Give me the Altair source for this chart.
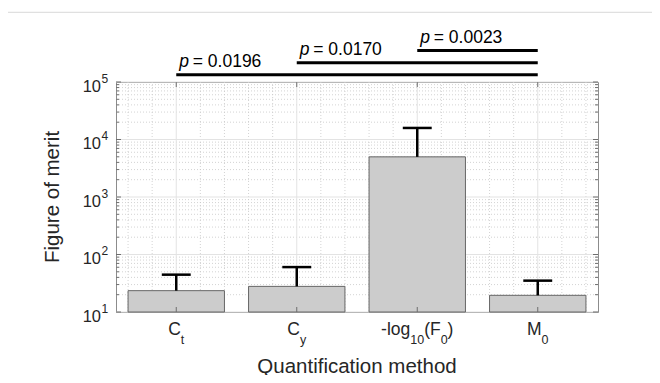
import altair as alt
import numpy as np
import pandas as pd

# ---------------- data ----------------
positions = [1, 2, 3, 4]
bar_means = [23.5, 27.9, 4990, 19.5]
bar_upper = [44.6, 60.4, 15880, 35.1]
label_parts = [
    [("C", False), ("t", True)],
    [("C", False), ("y", True)],
    [("-log", False), ("10", True), ("(F", False), ("0", True), (")", False)],
    [("M", False), ("0", True)],
]
decades = [10, 100, 1000, 10000, 100000]
decade_exps = ["1", "2", "3", "4", "5"]
sig_start = [1, 2, 3]
sig_end = [4, 4, 4]
sig_line_y = [1.34e5, 2.16e5, 3.54e5]
sig_p = ["0.0196", "0.0170", "0.0023"]
x_title = "Quantification method"
y_title = "Figure of merit"

# ---------------- layout / style ----------------
W, H = 482, 230
PAD = {"left": 108, "top": 74, "right": 54, "bottom": 63}
FONT = "Liberation Sans"
TXT = "#262626"
MAIN_FS, SUB_FS = 17.5, 12.5
ARIAL = {"C": 722, "t": 278, "y": 500, "-": 333, "l": 222, "o": 556, "g": 556,
         "1": 556, "0": 556, "(": 333, "F": 611, ")": 333, "M": 833}


def text_w(s, fs):
    return sum(ARIAL.get(c, 556) for c in s) * fs / 1000.0


xs = alt.Scale(domain=[0.5, 4.5], nice=False, zero=False)
ys = alt.Scale(type="log", domain=[10, 1e5], nice=False)


def X(f):
    return alt.X(f, type="quantitative", scale=xs, axis=None)


def Y(f):
    return alt.Y(f, type="quantitative", scale=ys, axis=None)


# grid values
minor_x = [round(v, 2) for v in np.arange(0.6, 4.41, 0.2) if abs(v - round(v)) > 1e-6]
minor_y = [m * 10 ** k for k in range(1, 5) for m in range(2, 10)]

gx_major = pd.DataFrame({"v": positions})
gx_minor = pd.DataFrame({"v": minor_x})
gy_major = pd.DataFrame({"v": decades})
gy_minor = pd.DataFrame({"v": minor_y})

layers = []
# grid
layers.append(alt.Chart(gx_minor).mark_rule(color="#c8c8c8", strokeWidth=0.8, strokeDash=[1, 2]).encode(
    x=X("v"), y=alt.value(0), y2=alt.value(H)))
layers.append(alt.Chart(gy_minor).mark_rule(color="#c8c8c8", strokeWidth=0.8, strokeDash=[1, 2]).encode(
    y=Y("v"), x=alt.value(0), x2=alt.value(W)))
layers.append(alt.Chart(gx_major).mark_rule(color="#e3e3e3", strokeWidth=1).encode(
    x=X("v"), y=alt.value(0), y2=alt.value(H)))
layers.append(alt.Chart(gy_major).mark_rule(color="#e3e3e3", strokeWidth=1).encode(
    y=Y("v"), x=alt.value(0), x2=alt.value(W)))

# bars
bars = pd.DataFrame({"pos": positions, "mean": bar_means, "upper": bar_upper})
bars["base"] = 10
bars["lo"] = bars["pos"] - 0.4
bars["hi"] = bars["pos"] + 0.4
bars["clo"] = bars["pos"] - 0.12
bars["chi"] = bars["pos"] + 0.12
layers.append(alt.Chart(bars).mark_bar(fill="#cccccc", stroke="#666666", strokeWidth=1).encode(
    x=X("lo"), x2="hi", y=Y("mean"), y2="base"))
layers.append(alt.Chart(bars).mark_rule(color="black", strokeWidth=2.5).encode(
    x=X("pos"), y=Y("mean"), y2="upper"))
layers.append(alt.Chart(bars).mark_rule(color="black", strokeWidth=2.5).encode(
    x=X("clo"), x2="chi", y=Y("upper")))

# inward ticks
TC = "#6e6e6e"
for xa, xb in [(0, 5), (W - 5, W)]:
    layers.append(alt.Chart(gy_major).mark_rule(color=TC, strokeWidth=1).encode(
        y=Y("v"), x=alt.value(xa), x2=alt.value(xb)))
for xa, xb in [(0, 3), (W - 3, W)]:
    layers.append(alt.Chart(gy_minor).mark_rule(color=TC, strokeWidth=1).encode(
        y=Y("v"), x=alt.value(xa), x2=alt.value(xb)))
for ya, yb in [(H - 5, H), (0, 5)]:
    layers.append(alt.Chart(gx_major).mark_rule(color=TC, strokeWidth=1).encode(
        x=X("v"), y=alt.value(ya), y2=alt.value(yb)))

# significance brackets
P_FS = 17.5
sig = pd.DataFrame({"s": sig_start, "e": sig_end, "y": sig_line_y, "p": sig_p})
layers.append(alt.Chart(sig).mark_rule(color="black", strokeWidth=3).encode(
    x=X("s"), x2="e", y=Y("y")))
layers.append(alt.Chart(sig).mark_text(align="left", baseline="alphabetic", dx=3, dy=-7.7,
                                       fontSize=P_FS, fontStyle="italic", font=FONT, color="black").encode(
    x=X("s"), y=Y("y"), text=alt.value("p")))
layers.append(alt.Chart(sig).mark_text(align="left", baseline="alphabetic", dx=16.5, dy=-7.7,
                                       fontSize=P_FS, font=FONT, color="black").encode(
    x=X("s"), y=Y("y"), text=alt.Text("lbl:N")).transform_calculate(lbl="'= ' + datum.p"))

# y tick labels
ylab = pd.DataFrame({"v": decades, "e": decade_exps})
layers.append(alt.Chart(ylab).mark_text(align="right", baseline="alphabetic", dy=9.6,
                                        fontSize=16.5, font=FONT, color=TXT).encode(
    x=alt.value(-15), y=Y("v"), text=alt.value("10")))
layers.append(alt.Chart(ylab).mark_text(align="left", baseline="alphabetic", dy=0.6,
                                        fontSize=12, font=FONT, color=TXT).encode(
    x=alt.value(-14.5), y=Y("v"), text="e:N"))

# x tick labels (with subscripts)
for pos, parts in zip(positions, label_parts):
    total = sum(text_w(t, SUB_FS if sub else MAIN_FS) for t, sub in parts)
    cur = -total / 2.0
    for t, sub in parts:
        fs = SUB_FS if sub else MAIN_FS
        df = pd.DataFrame({"pos": [pos], "t": [t]})
        layers.append(alt.Chart(df).mark_text(align="left", baseline="alphabetic", dx=cur,
                                              fontSize=fs, font=FONT, color=TXT).encode(
            x=X("pos"), y=alt.value(H + (31.5 if sub else 22.5)), text="t:N"))
        cur += text_w(t, fs)

# axis titles
tdf = pd.DataFrame({"t": [x_title]})
layers.append(alt.Chart(tdf).mark_text(align="center", baseline="alphabetic", fontSize=20.5,
                                       font=FONT, color=TXT).encode(
    x=alt.value(W / 2), y=alt.value(H + 60.5), text="t:N"))
ydf = pd.DataFrame({"t": [y_title]})
layers.append(alt.Chart(ydf).mark_text(align="center", baseline="alphabetic", fontSize=20.5,
                                       angle=270, font=FONT, color=TXT).encode(
    x=alt.value(-57.5), y=alt.value(H / 2), text="t:N"))

# thin gray rule at the very top of the figure
layers.append(alt.Chart(pd.DataFrame({"a": [0]})).mark_rule(color="#e0e0e0", strokeWidth=1.2).encode(
    x=alt.value(-PAD["left"]), x2=alt.value(W + PAD["right"]), y=alt.value(-69.7)))

chart = alt.layer(*layers).properties(
    width=W, height=H, padding=PAD, autosize=alt.AutoSizeParams(type="none"),
    background="white",
).configure_view(stroke="#8c8c8c", strokeWidth=1)

chart.save("out.html", embed_options={"renderer": "svg", "actions": False})
